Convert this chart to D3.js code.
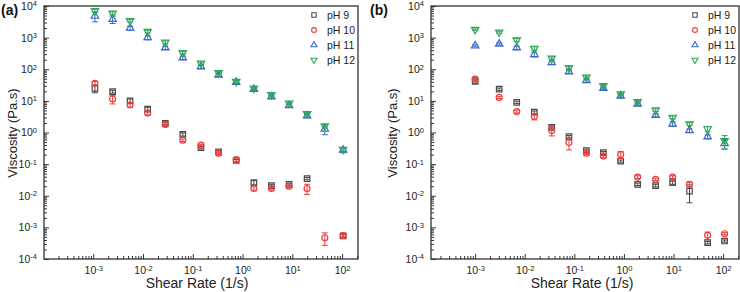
<!DOCTYPE html>
<html><head><meta charset="utf-8">
<script src="https://cdn.jsdelivr.net/npm/d3@7"></script>
<style>body{margin:0;background:#fff} svg{display:block;font-family:"Liberation Sans",Arial,sans-serif}</style>
</head><body><svg id="c" width="740" height="292"></svg>
<script>
// ---------- DATA ----------
const seriesNames = ["pH 9", "pH 10", "pH 11", "pH 12"];
const xTickExps = [-3, -2, -1, 0, 1, 2];
const yTickExps = [-4, -3, -2, -1, 0, 1, 2, 3, 4];

const shearRateA = [0.00108, 0.00245, 0.0055, 0.0124, 0.028, 0.063, 0.146, 0.33, 0.745, 1.69, 3.8, 8.6, 19.8, 45, 105];
const a_pH9  = [25, 19.5, 10, 5.5, 1.95, 0.87, 0.33, 0.245, 0.13, 0.026, 0.021, 0.023, 0.035, null, 0.00054];
const a_pH10 = [36, 11.5, 7.4, 4.1, 1.8, 0.57, 0.4, 0.22, 0.14, 0.017, 0.017, 0.020, 0.017, 0.00047, 0.00055];
const a_pH11 = [4800, 3800, 2000, 1000, 480, 230, 120, 66, 39, 23.5, 13.5, 7.2, 3.4, 1.3, 0.28];
const a_pH12 = [7100, 5900, 3400, 1550, 710, 330, 155, 78, 41, 25, 15.5, 8.4, 3.9, 1.6, 0.29];
const a_pH9_err  = [7, 2, 1.5, 0.8, 0.2, 0.1, 0.03, 0.02, 0.01, 0.004, 0.002, 0.002, 0.003, null, 0.00005];
const a_pH10_err = [5, 3.5, 1, 0.5, 0.2, 0.05, 0.03, 0.02, 0.02, 0.002, 0.002, 0.002, 0.006, 0.0002, 0.00005];
const a_pH11_err = [1650, 1000, 300, 150, 60, 30, 15, 8, 4, 2, 1.5, 0.8, 0.4, 0.45, 0.05];
const a_pH12_err = [800, 600, 300, 150, 70, 30, 15, 7, 4, 2, 1.5, 0.8, 0.4, 0.2, 0.04];

const shearRateB = [0.001, 0.00305, 0.0069, 0.0156, 0.035, 0.078, 0.175, 0.385, 0.86, 1.89, 4.36, 9.6, 21, 48.7, 107];
const b_pH9  = [41, 23.5, 9.0, 4.4, 1.46, 0.74, 0.27, 0.23, 0.125, 0.023, 0.021, 0.026, 0.014, 0.00033, 0.00037];
const b_pH10 = [49, 12.9, 4.6, 3.2, 1.15, 0.48, 0.22, 0.18, 0.2, 0.039, 0.033, 0.039, 0.023, 0.00056, 0.00063];
const b_pH11 = [550, 630, 480, 295, 162, 84, 44, 25, 14.3, 8.0, 3.5, 1.86, 1.15, 0.74, 0.45];
const b_pH12 = [1800, 1480, 840, 455, 222, 112, 56, 30, 16.5, 9.4, 5.1, 3.0, 1.86, 1.3, 0.55];
const b_pH9_err  = [5, 2, 0.8, 0.4, 0.15, 0.06, 0.03, 0.02, 0.01, 0.002, 0.002, 0.003, 0.008, 0.00003, 0.00003];
const b_pH10_err = [6, 1, 0.5, 0.7, 0.37, 0.2, 0.02, 0.02, 0.05, 0.004, 0.003, 0.004, 0.004, 0.00015, 0.00005];
const b_pH11_err = [40, 50, 60, 50, 20, 10, 5, 2, 1.5, 0.8, 0.4, 0.3, 0.15, 0.1, 0.15];
const b_pH12_err = [100, 100, 100, 60, 25, 12, 6, 3, 1.5, 0.9, 0.5, 0.3, 0.2, 0.25, 0.25];

// ---------- STYLE / LAYOUT ----------
const colors = ["#4a4a4a", "#f03a3a", "#3a68c4", "#2ea85a"];
const symbols = [d3.symbolSquare, d3.symbolCircle, d3.symbolTriangle, d3.symbolTriangle];
const symSize = [30, 28, 24, 24];
const symRot = [0, 0, 0, 180];
const axisColor = "#333";

const panels = [
  { label: "(a)", labelX: 1, rates: shearRateA,
    series: [a_pH9, a_pH10, a_pH11, a_pH12], errs: [a_pH9_err, a_pH10_err, a_pH11_err, a_pH12_err],
    x0: 44, x1: 358, xLog: [-3.99, 2.32], legX: 314, yTitleX: 12, xTitleX: 197 },
  { label: "(b)", labelX: 370, rates: shearRateB,
    series: [b_pH9, b_pH10, b_pH11, b_pH12], errs: [b_pH9_err, b_pH10_err, b_pH11_err, b_pH12_err],
    x0: 431, x1: 739, xLog: [-3.89, 2.32], legX: 695, yTitleX: 392, xTitleX: 582 }
];
const Y0 = 6, Y1 = 259;

const svg = d3.select("#c");

function supLabel(sel, anchor) {
  sel.each(function(d) {
    const t = d3.select(this);
    const e = Math.round(Math.log10(d));
    t.text(null).attr("text-anchor", anchor);
    t.append("tspan").text("10");
    t.append("tspan").attr("dy", "-0.45em").attr("font-size", "0.72em").text(String(e));
  });
}

panels.forEach(p => {
  const g = svg.append("g");
  const x = d3.scaleLog().domain([Math.pow(10, p.xLog[0]), Math.pow(10, p.xLog[1])]).range([p.x0, p.x1]);
  const y = d3.scaleLog().domain([1e-4, 1e4]).range([Y1, Y0]);

  const xMajor = xTickExps.map(e => Math.pow(10, e));
  const yMajor = yTickExps.map(e => Math.pow(10, e));
  const xMinor = [], yMinor = [];
  for (let e = -4; e <= 2; e++) for (let m = 2; m <= 9; m++) {
    const v = m * Math.pow(10, e);
    if (v > x.domain()[0] && v < x.domain()[1]) xMinor.push(v);
  }
  for (let e = -4; e < 4; e++) for (let m = 2; m <= 9; m++) yMinor.push(m * Math.pow(10, e));

  // minor ticks
  const gxm = g.append("g").attr("transform", `translate(0,${Y1})`)
    .call(d3.axisBottom(x).tickValues(xMinor).tickSize(-3).tickSizeOuter(0).tickFormat(""));
  const gym = g.append("g").attr("transform", `translate(${p.x0},0)`)
    .call(d3.axisLeft(y).tickValues(yMinor).tickSize(-3).tickSizeOuter(0).tickFormat(""));
  [gxm, gym].forEach(s => { s.select(".domain").remove(); s.selectAll("line").attr("stroke", axisColor); });

  // major ticks
  const gx = g.append("g").attr("transform", `translate(0,${Y1})`)
    .call(d3.axisBottom(x).tickValues(xMajor).tickSize(-5).tickSizeOuter(0).tickPadding(8));
  const gy = g.append("g").attr("transform", `translate(${p.x0},0)`)
    .call(d3.axisLeft(y).tickValues(yMajor).tickSize(-5).tickSizeOuter(0).tickPadding(7));
  [gx, gy].forEach(s => {
    s.select(".domain").remove();
    s.selectAll("line").attr("stroke", axisColor);
    s.selectAll("text").attr("font-size", 10.5).attr("fill", "#222").attr("font-family", "Liberation Sans, Arial, sans-serif");
  });
  gx.selectAll(".tick text").call(supLabel, "middle");
  gy.selectAll(".tick text").call(supLabel, "end");

  // frame
  g.append("rect").attr("x", p.x0).attr("y", Y0).attr("width", p.x1 - p.x0).attr("height", Y1 - Y0)
    .attr("fill", "none").attr("stroke", axisColor).attr("stroke-width", 1.3);

  // data
  p.series.forEach((vals, si) => {
    const pts = vals.map((v, i) => ({ x: p.rates[i], v, e: p.errs[si][i] })).filter(d => d.v != null);
    const sg = g.append("g");
    const eb = pts.filter(d => d.e);
    sg.selectAll("line.eb").data(eb).join("line")
      .attr("x1", d => x(d.x)).attr("x2", d => x(d.x))
      .attr("y1", d => y(d.v + d.e)).attr("y2", d => y(Math.max(d.v - d.e, 1.2e-4)))
      .attr("stroke", colors[si]).attr("stroke-width", 1);
    sg.selectAll("line.cu").data(eb).join("line")
      .attr("x1", d => x(d.x) - 3).attr("x2", d => x(d.x) + 3)
      .attr("y1", d => y(d.v + d.e)).attr("y2", d => y(d.v + d.e))
      .attr("stroke", colors[si]).attr("stroke-width", 1);
    sg.selectAll("line.cd").data(eb).join("line")
      .attr("x1", d => x(d.x) - 3).attr("x2", d => x(d.x) + 3)
      .attr("y1", d => y(Math.max(d.v - d.e, 1.2e-4))).attr("y2", d => y(Math.max(d.v - d.e, 1.2e-4)))
      .attr("stroke", colors[si]).attr("stroke-width", 1);
    sg.selectAll("path").data(pts).join("path")
      .attr("d", d3.symbol().type(symbols[si]).size(symSize[si]))
      .attr("transform", d => `translate(${x(d.x)},${y(d.v)}) rotate(${symRot[si]})`)
      .attr("fill", "none").attr("stroke", colors[si]).attr("stroke-width", 1.2);
  });

  // legend
  seriesNames.forEach((n, i) => {
    const ly = 15 + i * 15;
    g.append("path").attr("d", d3.symbol().type(symbols[i]).size(symSize[i] * 0.65)())
      .attr("transform", `translate(${p.legX},${ly}) rotate(${symRot[i]})`)
      .attr("fill", "none").attr("stroke", colors[i]).attr("stroke-width", 1.1);
    g.append("text").attr("x", p.legX + 13).attr("y", ly).attr("dy", "0.35em")
      .attr("font-size", 10.5).attr("fill", "#222").text(n);
  });

  // titles
  g.append("text").attr("x", p.xTitleX).attr("y", 288).attr("text-anchor", "middle")
    .attr("font-size", 14).attr("fill", "#222").text("Shear Rate (1/s)");
  g.append("text").attr("transform", `translate(${p.yTitleX + 5},${133}) rotate(-90)`).attr("text-anchor", "middle")
    .attr("font-size", 13).attr("fill", "#222").text("Viscosity (Pa.s)");
  g.append("text").attr("x", p.labelX).attr("y", 15).attr("font-size", 14).attr("font-weight", "bold")
    .attr("fill", "#111").text(p.label);
});
</script></body></html>
